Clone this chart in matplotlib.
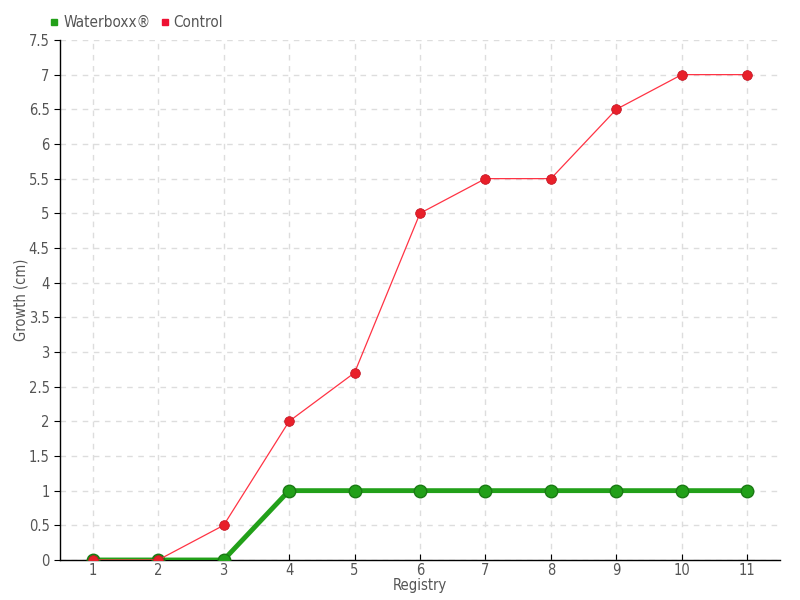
import matplotlib.pyplot as plt
from matplotlib.lines import Line2D

# Data
registry = [1, 2, 3, 4, 5, 6, 7, 8, 9, 10, 11]
waterboxx = [0, 0, 0, 1, 1, 1, 1, 1, 1, 1, 1]
control = [0, 0, 0.5, 2, 2.7, 5, 5.5, 5.5, 6.5, 7, 7]
y_ticks = [0, 0.5, 1, 1.5, 2, 2.5, 3, 3.5, 4, 4.5, 5, 5.5, 6, 6.5, 7, 7.5]

green = '#22a019'
red = '#ff3344'
text_col = '#555555'

plt.rcParams['font.family'] = ['DejaVu Sans']
plt.rcParams['font.stretch'] = 'condensed'

fig = plt.figure(figsize=(8, 6), dpi=100)
ax = fig.add_axes([0.075, 0.0667, 0.90, 0.8667])

ax.plot(registry, waterboxx, color=green, lw=3.5, marker='o', ms=9,
        mfc=green, mec='#1a7a14', mew=1, zorder=3)
ax.plot(registry, control, color=red, lw=0.9, marker='o', ms=7,
        mfc='#e8202a', mec='#c01020', mew=0.5, zorder=4)

ax.set_xlim(0.5, 11.5)
ax.set_ylim(0, 7.5)
ax.set_xticks(registry)
ax.set_yticks(y_ticks)
ax.set_yticklabels([f'{v:g}' for v in y_ticks])

ax.grid(True, color='#dddddd', linestyle=(0, (4, 4)), lw=1)
ax.set_axisbelow(True)
for side in ['top', 'right']:
    ax.spines[side].set_visible(False)
for side in ['left', 'bottom']:
    ax.spines[side].set_color('black')
    ax.spines[side].set_linewidth(1)

ax.tick_params(axis='both', colors='black', labelcolor=text_col, labelsize=10.5, length=4)
ax.tick_params(axis='x', direction='in', pad=2)

ax.set_xlabel('Registry', color=text_col, fontsize=10.5, labelpad=0)
ax.set_ylabel('Growth (cm)', color=text_col, fontsize=10.5)
ax.yaxis.set_label_coords(-0.044, 0.5)

handles = [
    Line2D([], [], ls='none', marker='s', ms=5, color=green),
    Line2D([], [], ls='none', marker='s', ms=5, color='#ee1133'),
]
fig.legend(handles, ['Waterboxx®', 'Control'], loc='upper left',
           bbox_to_anchor=(0.045, 0.998), ncol=2, frameon=False,
           handlelength=0.6, handletextpad=0.3, columnspacing=0.6,
           fontsize=11, labelcolor=text_col)

fig.savefig('out.png', dpi=100)
